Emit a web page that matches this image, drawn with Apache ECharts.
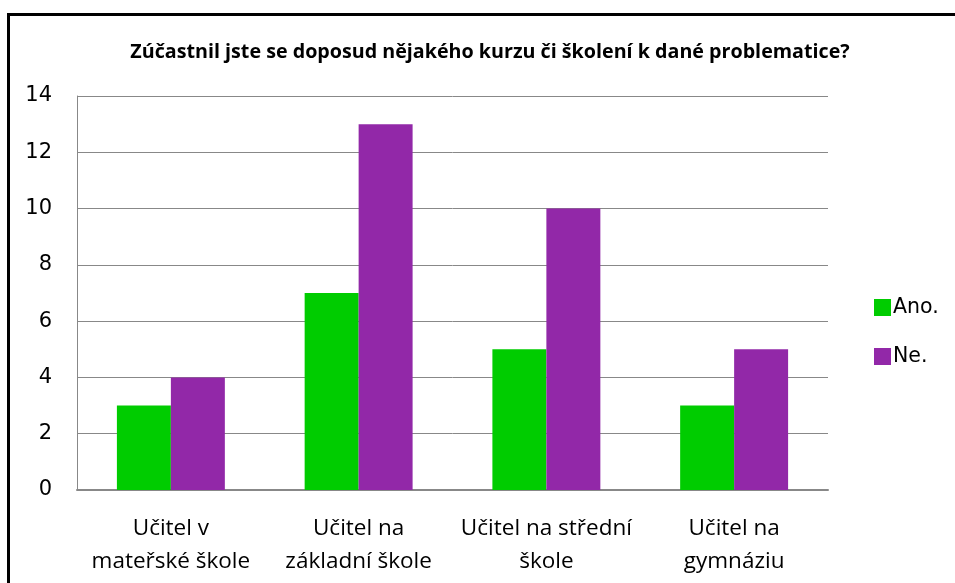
<!DOCTYPE html>
<html lang="cs">
<head>
<meta charset="UTF-8">
<title>Kurz</title>
<script src="https://cdn.jsdelivr.net/npm/echarts@6/dist/echarts.min.js"></script>
<style>
  html, body { margin: 0; padding: 0; background: #fff; }
  #container { width: 955px; height: 583px; }
</style>
</head>
<body>
<div id="container"></div>
<script>
// data
const categories = ['Učitel v\nmateřské škole', 'Učitel na\nzákladní škole', 'Učitel na střední\nškole', 'Učitel na\ngymnáziu'];
const ano = [3, 7, 5, 3];
const ne = [4, 13, 10, 5];
const seriesNames = ['Ano.', 'Ne.'];
const titleText = 'Zúčastnil jste se doposud nějakého kurzu či školení k dané problematice?';

const chart = echarts.init(document.getElementById('container'), null, { renderer: 'canvas' });

chart.setOption({
  animation: false,
  backgroundColor: '#fff',
  title: {
    text: titleText,
    left: 485,
    textAlign: 'center',
    top: 37,
    textStyle: { fontFamily: 'Open Sans', fontWeight: 'bold', fontSize: 19.7, color: '#000' }
  },
  legend: {
    orient: 'vertical',
    left: 869,
    top: 292,
    itemWidth: 17,
    itemHeight: 17,
    itemGap: 28,
    icon: 'rect',
    textStyle: { fontFamily: 'DejaVu Sans', fontSize: 20.5, color: '#000', padding: [0, 0, 0, -3] },
    data: seriesNames
  },
  grid: { left: 77, right: 127, top: 96, bottom: 93 },
  xAxis: {
    type: 'category',
    data: categories,
    axisLine: { lineStyle: { color: '#888', width: 2 } },
    axisTick: { show: false },
    axisLabel: { fontFamily: 'Open Sans', fontSize: 22.5, color: '#000', lineHeight: 33, margin: 22, interval: 0 }
  },
  yAxis: {
    type: 'value',
    min: 0,
    max: 14,
    interval: 2,
    axisLine: { show: true, lineStyle: { color: '#888', width: 1 } },
    axisTick: { show: false },
    splitLine: { lineStyle: { color: '#888', width: 1 } },
    axisLabel: { fontFamily: 'DejaVu Sans', fontSize: 21, color: '#000', margin: 25 }
  },
  series: [
    { name: seriesNames[0], type: 'bar', data: ano, itemStyle: { color: '#00cc00' }, barGap: '0%', barCategoryGap: '42.5%' },
    { name: seriesNames[1], type: 'bar', data: ne, itemStyle: { color: '#9228a8' } }
  ],
  graphic: [{
    type: 'rect',
    shape: { x: 8.5, y: 14.5, width: 1000, height: 700 },
    style: { fill: 'none', stroke: '#000', lineWidth: 3 },
    silent: true
  }]
});
</script>
</body>
</html>
